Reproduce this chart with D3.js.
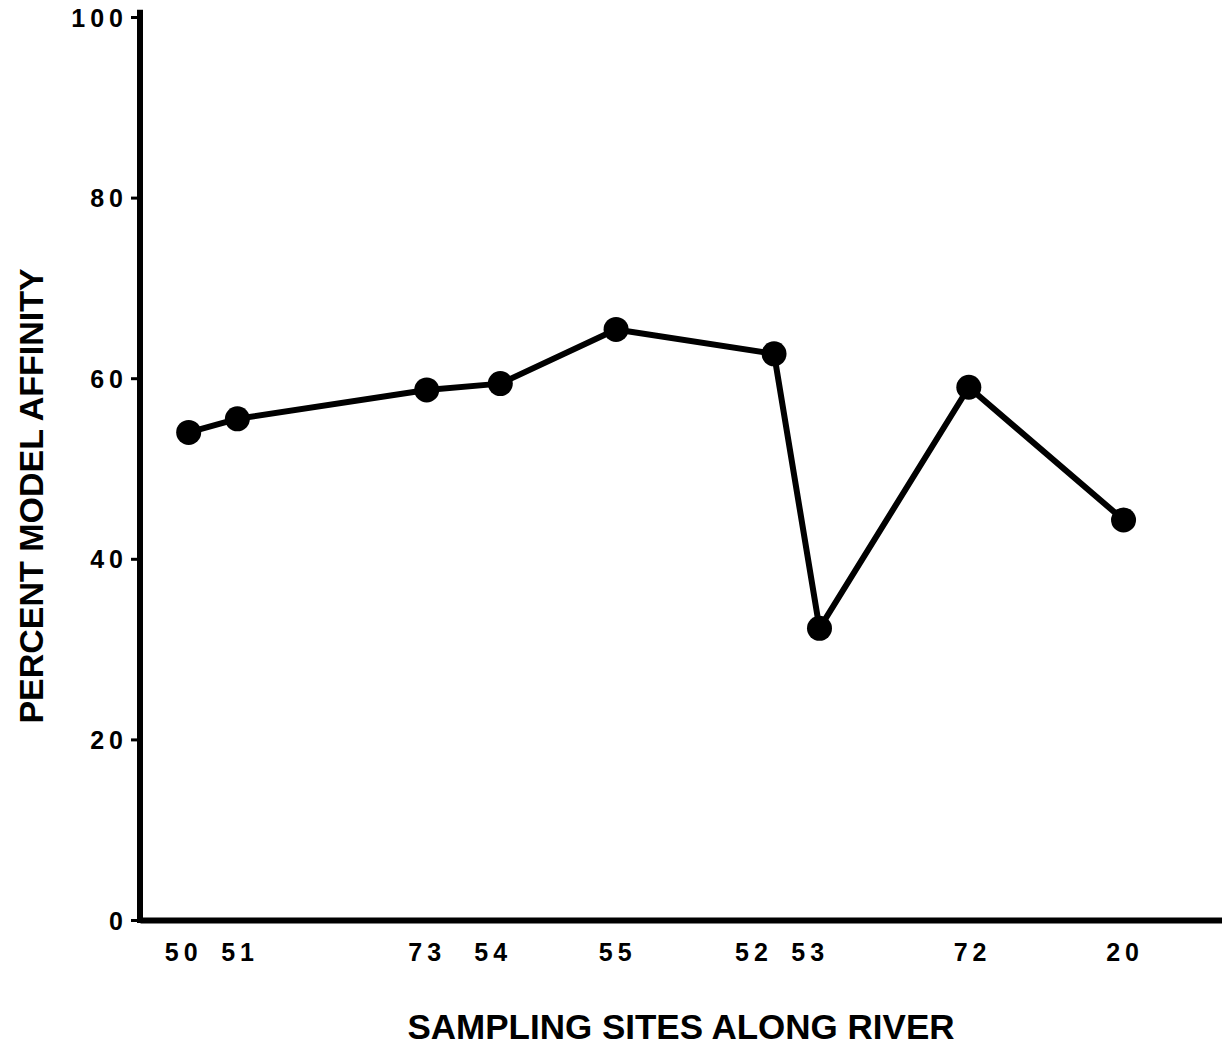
<!DOCTYPE html>
<html>
<head>
<meta charset="utf-8">
<script src="https://cdn.jsdelivr.net/npm/d3@7"></script>
<style>
  html, body { margin: 0; padding: 0; background: #fff; }
  svg { display: block; }
  text { font-family: "Liberation Sans", Arial, Helvetica, sans-serif; font-weight: bold; fill: #000; }
</style>
</head>
<body>
<svg id="chart" width="1222" height="1048"></svg>
<script>
// ---- data ----
const sites      = ["50", "51", "73", "54", "55", "52", "53", "72", "20"];
const sitePos    = [4.5, 9.0, 26.5, 33.3, 44.0, 58.6, 62.8, 76.6, 90.9];   // relative position along river
const labelPos   = [4.0, 9.2, 26.5, 32.6, 44.1, 56.7, 61.9, 76.9, 91.0];   // where the site labels sit
const affinity   = [54.0, 55.5, 58.7, 59.4, 65.4, 62.7, 32.3, 59.0, 44.3];
const yTicks     = [0, 20, 40, 60, 80, 100];
const xTitle     = "SAMPLING SITES ALONG RIVER";
const yTitle     = "PERCENT MODEL AFFINITY";

const svg = d3.select("#chart");
const x = d3.scaleLinear().domain([0, 100]).range([140, 1222]);
const y = d3.scaleLinear().domain([0, 100]).range([920, 17]);

// y axis
const yAx = svg.append("g").attr("transform", `translate(${x(0)},0)`)
  .call(d3.axisLeft(y).tickValues(yTicks).tickSize(9).tickSizeOuter(0).tickPadding(6));
yAx.select(".domain").remove();
yAx.selectAll(".tick line").attr("stroke", "#000").attr("stroke-width", 3);
yAx.selectAll(".tick text")
  .attr("font-size", 25).style("font-size", "25px").style("letter-spacing", "5px")
  .attr("dy", "0.36em").attr("x", -12);
svg.append("line")
  .attr("x1", x(0)).attr("x2", x(0))
  .attr("y1", y(0) + 3).attr("y2", y(100.8))
  .attr("stroke", "#000").attr("stroke-width", 6);

// x axis
const xAx = svg.append("g").attr("transform", `translate(0,${y(0)})`)
  .call(d3.axisBottom(x).tickValues(labelPos).tickFormat((d, i) => sites[i]).tickSize(0).tickSizeOuter(0));
xAx.select(".domain").attr("stroke", "#000").attr("stroke-width", 6);
xAx.selectAll(".tick text")
  .attr("font-size", 25).style("font-size", "25px").style("letter-spacing", "5px")
  .attr("y", 41).attr("dy", 0);

// line
const pts = sitePos.map((p, i) => [p, affinity[i]]);
svg.append("path")
  .datum(pts)
  .attr("fill", "none").attr("stroke", "#000").attr("stroke-width", 6)
  .attr("stroke-linejoin", "round")
  .attr("d", d3.line().x(d => x(d[0])).y(d => y(d[1])));

svg.selectAll("circle.dot").data(pts).join("circle")
  .attr("class", "dot")
  .attr("cx", d => x(d[0])).attr("cy", d => y(d[1])).attr("r", 12.5)
  .attr("fill", "#000");

// titles
svg.append("text")
  .attr("x", 681).attr("y", 1039).attr("text-anchor", "middle")
  .style("font-size", "35px").text(xTitle);
svg.append("text")
  .attr("transform", "translate(43,496) rotate(-90)").attr("text-anchor", "middle")
  .style("font-size", "34px").text(yTitle);
</script>
</body>
</html>
